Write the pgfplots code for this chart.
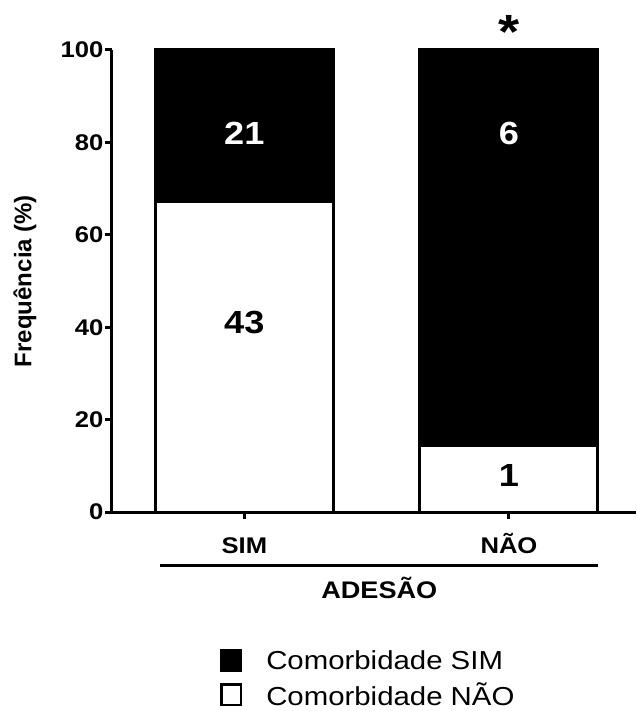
\documentclass[border=0pt]{standalone}
\usepackage{fontspec}
\setmainfont{Liberation Sans}[FakeStretch=1.13]
\newfontfamily\plainfont{Liberation Sans}
\usepackage{pgfplots}
\pgfplotsset{compat=1.18}
\begin{document}
\begin{tikzpicture}
\begin{axis}[
  scale only axis,
  width=393pt, height=346.5pt,
  xmin=-0.5, xmax=1.48,
  ymin=0, ymax=100,
  axis x line=bottom, axis y line=left,
  axis line style={-, line width=2.25pt},
  every tick/.style={black, line width=2.25pt},
  tick align=outside,
  major tick length=5.25pt,
  /pgf/number format/assume math mode=true,
  ytick={0,20,40,60,80,100},
  xtick={0,1},
  xticklabels={SIM, NÃO},
  ybar stacked,
  bar width=133.5pt,
  clip=false,
  yticklabel style={font=\bfseries\fontsize{17}{20}\selectfont, inner sep=1pt},
  xticklabel style={font=\bfseries\fontsize{17}{20}\selectfont, inner sep=1pt, text height=15pt, text depth=1pt, yshift=-10pt},
  ylabel={Frequência (\%)},
  ylabel style={font=\plainfont\bfseries\fontsize{18}{20}\selectfont, at={([xshift=-65.25pt]axis description cs:0,0.5)}, anchor=center},
  reverse legend,
  legend cell align=left,
  legend image code/.code={\draw[#1, line width=2pt] (0.5pt,-7.25pt) rectangle (15pt,8pt);},
  legend style={at={(axis description cs:0.2061,-0.2937)}, anchor=north west, draw=none, fill=none, inner sep=0pt,
    font=\fontsize{19.5}{22}\selectfont, row sep=4.5pt,
    /tikz/every odd column/.append style={column sep=16pt}},
]
\addplot[draw=black, fill=white, line width=2.25pt] coordinates {(0,67.19) (1,14.29)};
\addlegendentry{Comorbidade NÃO}
\addplot[draw=black, fill=black, line width=2.25pt] coordinates {(0,32.81) (1,85.71)};
\addlegendentry{Comorbidade SIM}
\coordinate (O) at (rel axis cs:0,0);
\coordinate (A) at (axis cs:0,82);
\coordinate (B) at (axis cs:0,41);
\coordinate (C) at (axis cs:1,82);
\coordinate (D) at (axis cs:1,8);
\coordinate (E) at (axis cs:1,100);
\coordinate (L1) at (axis cs:-0.317,0);
\coordinate (L2) at (axis cs:1.336,0);
\coordinate (X) at (axis cs:0.51,0);
\end{axis}
\node[text=white, font=\bfseries\fontsize{24}{26}\selectfont] at (A) {21};
\node[text=black, font=\bfseries\fontsize{24}{26}\selectfont] at (B) {43};
\node[text=white, font=\bfseries\fontsize{24}{26}\selectfont] at (C) {6};
\node[text=black, font=\bfseries\fontsize{24}{26}\selectfont] at (D) {1};
\node[anchor=base, font=\bfseries\fontsize{36}{38}\selectfont, yshift=1pt] at (E) {*};
\draw[line width=2.25pt] ([yshift=-39.75pt]L1) -- ([yshift=-39.75pt]L2);
\node[font=\bfseries\fontsize{18}{20}\selectfont] at ([yshift=-57pt]X) {ADESÃO};
\pgfresetboundingbox
\path[use as bounding box] (O) ++(-84pt,-149.25pt) rectangle ++(477pt,533.25pt);
\end{tikzpicture}
\end{document}
